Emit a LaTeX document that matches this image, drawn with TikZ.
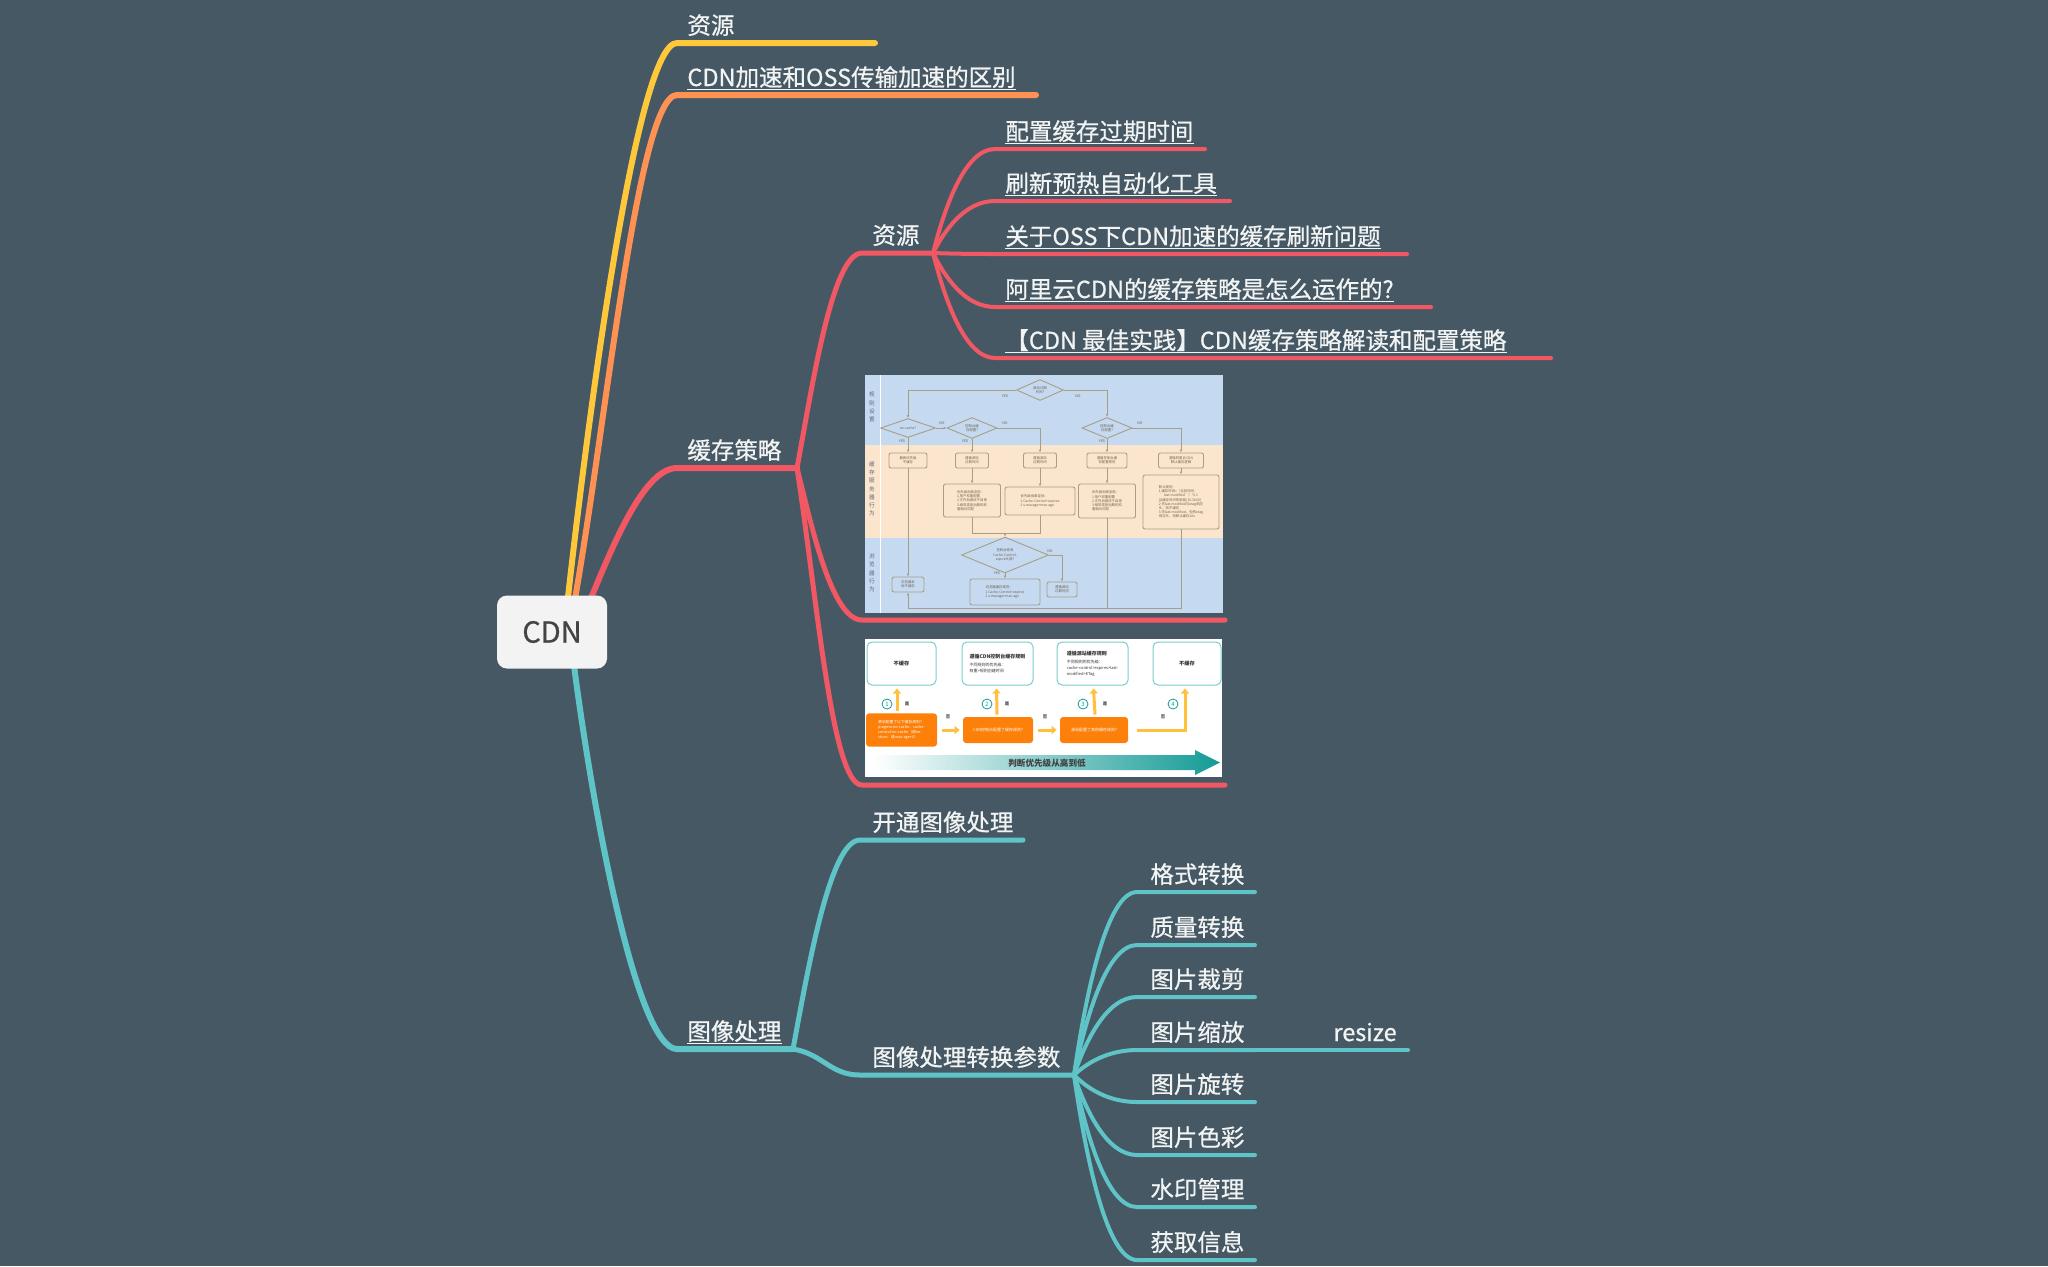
\documentclass[tikz,border=0pt]{standalone}
\usepackage{fontspec}
\setmainfont{Noto Sans CJK SC}
\newfontfamily\mapfont{Noto Sans CJK SC}[RawFeature={embolden=0.7}]
\usepackage{tikz}
\usetikzlibrary{shapes.geometric,arrows.meta,backgrounds}

\definecolor{bgslate}{RGB}{70,88,100}
\definecolor{bryellow}{RGB}{255,200,58}
\definecolor{brorange}{RGB}{255,146,82}
\definecolor{brred}{RGB}{242,88,100}
\definecolor{brteal}{RGB}{94,196,200}
\definecolor{txtwhite}{RGB}{242,244,244}
\definecolor{rootgray}{RGB}{243,243,243}
\definecolor{rootink}{RGB}{68,68,68}
\definecolor{band1}{RGB}{197,217,240}
\definecolor{band2}{RGB}{252,229,205}
\definecolor{flowline}{RGB}{168,158,136}
\definecolor{flowink}{RGB}{110,100,80}
\definecolor{laneink}{RGB}{90,106,128}
\definecolor{orangebox}{RGB}{252,128,10}
\definecolor{tealedge}{RGB}{120,205,205}
\definecolor{tealdark}{RGB}{20,155,150}
\definecolor{arrowyellow}{RGB}{255,192,60}

\tikzstyle{rootbox} = [draw=none, fill=rootgray, rounded corners=5pt, minimum width=55pt, minimum height=36.5pt, text=rootink, font=\mapfont\fontsize{14.5}{16}\selectfont]
\tikzstyle{topictext} = [inner sep=0pt, anchor=base west, text=txtwhite, font=\mapfont\fontsize{11.75}{14}\selectfont]
\tikzstyle{mainbranch} = [line width=3pt, line cap=round]
\tikzstyle{subbranch} = [line width=2.5pt, line cap=round]
\tikzstyle{leafbranch} = [line width=2pt, line cap=round]
\tikzstyle{uline} = [draw=txtwhite, line width=0.8pt]
% diagramma di flusso (immagine 1)
\tikzstyle{fcbox} = [draw=flowline, line width=0.45pt, rounded corners=1pt, inner sep=0.4pt, align=center, text=flowink, font=\fontsize{1.7}{2.1}\selectfont]
\tikzstyle{fcdia} = [fcbox, diamond, sharp corners, inner sep=0pt]
\tikzstyle{fcline} = [draw=flowline, line width=0.45pt, -{Latex[length=1.5pt,width=1.3pt]}]
\tikzstyle{fcplain} = [draw=flowline, line width=0.45pt]
\tikzstyle{fcyes} = [inner sep=0pt, text=flowink, font=\fontsize{1.8}{2}\selectfont]
\tikzstyle{fclane} = [inner sep=0pt, align=center, text=laneink, font=\fontsize{2.8}{4.1}\selectfont]
% schema delle priorita (immagine 2)
\tikzstyle{prbox} = [draw=tealedge, line width=0.5pt, rounded corners=2.5pt, fill=white, minimum height=21.5pt, align=left, text=black!80, font=\fontsize{2}{3}\selectfont]
\tikzstyle{prorange} = [fill=orangebox, rounded corners=1.5pt, minimum height=13pt, align=left, text=white, font=\fontsize{1.9}{2.6}\selectfont]
\tikzstyle{prarrow} = [draw=arrowyellow, line width=1.5pt, -{Triangle[length=2.5pt,width=4pt]}]
\tikzstyle{prnum} = [circle, draw=tealdark, line width=0.4pt, inner sep=0pt, minimum size=5pt, text=tealdark, font=\fontsize{3}{3}\selectfont]
\tikzstyle{prword} = [inner sep=0pt, text=black!70, font=\bfseries\fontsize{2.2}{2.5}\selectfont]

\begin{document}
\begin{tikzpicture}[x=0.5pt,y=-0.5pt]
\useasboundingbox (0,0) rectangle (2048,1266);
\begin{scope}[on background layer]
\fill[bgslate] (0,0) rectangle (2048,1266);
\end{scope}

\node [rootbox] (cdn) at (552,632) {CDN};

% testi dei rami
\node [topictext] (res) at (687,34) {资源};
\node [topictext] (diff) at (687,86) {CDN加速和OSS传输加速的区别};
\node [topictext] (cache) at (687,459) {缓存策略};
\node [topictext] (cres) at (872,244) {资源};
\node [topictext] (img) at (687,1040) {图像处理};
\node [topictext] (open) at (872,831) {开通图像处理};
\node [topictext] (param) at (872,1066) {图像处理转换参数};

% punti di attacco delle linee
\coordinate (resL) at (677,43);    \coordinate (resR) at (875,43);
\coordinate (diffL) at (677,95);   \coordinate (diffR) at (1036,95);
\coordinate (cacheL) at (677,468); \coordinate (cacheK) at (797,468);
\coordinate (cresL) at (862,253);  \coordinate (cresK) at (933,253);
\coordinate (pic1L) at (862,620);  \coordinate (pic1R) at (1225,620);
\coordinate (pic2L) at (862,785);  \coordinate (pic2R) at (1225,785);
\coordinate (imgL) at (677,1049);  \coordinate (imgK) at (793,1049);
\coordinate (openL) at (860,840);  \coordinate (openR) at (1023,840);
\coordinate (paramL) at (860,1075); \coordinate (paramK) at (1074,1075);

% foglie rosse
\foreach \n/\y/\e/\txt in {cexp/149/1205/配置缓存过期时间, pref/201/1230/刷新预热自动化工具,
    oss/254/1407/关于OSS下CDN加速的缓存刷新问题, ali/307/1431/{阿里云CDN的缓存策略是怎么运作的?~},
    best/358/1551/【CDN 最佳实践】CDN缓存策略解读和配置策略}{
  \coordinate (\n0) at (995,\y);
  \coordinate (\n1) at (\e,\y);
  \node [topictext] (\n) at (1005,\y-9) {\txt};
}

% foglie azzurre
\foreach \n/\y/\txt in {fmt/892/格式转换, qual/945/质量转换, crop/997/图片裁剪, scale/1050/图片缩放,
    rot/1102/图片旋转, tint/1155/图片色彩, wmark/1207/水印管理, info/1260/获取信息}{
  \coordinate (\n0) at (1137,\y);
  \coordinate (\n1) at (1255,\y);
  \node [topictext] (\n) at (1150,\y-9) {\txt};
}
\node [topictext] (rsz) at (1333,1041) {resize};
\coordinate (rszR) at (1408,1050);

% sottolineature
\foreach \n in {diff,cexp,pref,oss,ali,best,img}
  \draw[uline] ([yshift=-1.7pt]\n.base west) -- ([yshift=-1.7pt]\n.base east);

% rami
\begin{scope}[on background layer]
\draw[mainbranch, bryellow] ([shift={(14,-17)}]cdn.center) .. controls +(22,-200) and +(-40,0) .. (resL) -- (resR);
\draw[mainbranch, brorange] ([shift={(20,-17)}]cdn.center) .. controls +(32,-170) and +(-40,0) .. (diffL) -- (diffR);
\draw[mainbranch, brred] ([shift={(32,-17)}]cdn.center) .. controls +(25,-60) and +(-35,0) .. (cacheL) -- (cacheK);
\draw[mainbranch, brteal] ([shift={(20,18)}]cdn.center) .. controls +(20,160) and +(-40,0) .. (imgL) -- (imgK);
\draw[subbranch, brred] (cacheK) .. controls +(15,-80) and +(-30,0) .. (cresL) -- (cresK);
\draw[subbranch, brred] (cacheK) .. controls +(15,60) and +(-30,0) .. (pic1L) -- (pic1R);
\draw[subbranch, brred] (cacheK) .. controls +(20,130) and +(-30,0) .. (pic2L) -- (pic2R);
\draw[subbranch, brteal] (imgK) .. controls +(15,-80) and +(-30,0) .. (openL) -- (openR);
\draw[subbranch, brteal] (imgK) .. controls +(30,5) and +(-30,0) .. (paramL) -- (paramK);
\foreach \n/\y in {cexp/149, pref/201, oss/254, ali/307, best/358}
  \draw[leafbranch, brred] (cresK) .. controls +(12,{0.45*(\y-253)}) and +(-30,0) .. (\n0) -- (\n1);
\foreach \n/\y in {fmt/892, qual/945, crop/997, scale/1050, rot/1102, tint/1155, wmark/1207, info/1260}
  \draw[leafbranch, brteal] (paramK) .. controls +(12,{0.45*(\y-1075)}) and +(-30,0) .. (\n0) -- (\n1);
\draw[leafbranch, brteal] (scale1) -- (rszR);
\end{scope}

% immagine 1: diagramma di flusso
\begin{scope}[shift={(865,375)}]
\fill[band1] (0,0) rectangle (358,70);
\fill[band2] (0,70) rectangle (358,163);
\fill[band1] (0,163) rectangle (358,238);
\draw[white, line width=0.4pt] (15,0) -- (15,238);
\node[fclane] (lane1) at (7,32) {规\\则\\设\\置};
\node[fclane] (lane2) at (7,114) {缓\\存\\服\\务\\器\\行\\为};
\node[fclane] (lane3) at (7,198) {浏\\览\\器\\行\\为};

\node[fcdia, minimum width=23.5pt, minimum height=9pt] (d0) at (175,15) {源站过期\\时间?};
\node[fcdia, minimum width=27.5pt, minimum height=7.5pt] (d1) at (43,53) {no-cache?};
\node[fcdia, minimum width=25pt, minimum height=9pt] (d2) at (107,53) {控制台缓\\存配置?};
\node[fcdia, minimum width=25pt, minimum height=9pt] (d3) at (242,53) {控制台缓\\存配置?};
\node[fcbox, minimum width=19pt, minimum height=7.5pt] (ba) at (43,85.5) {最高优先级\\不缓存};
\node[fcbox, minimum width=16.5pt, minimum height=7.5pt] (bb) at (107,85.5) {遵循源站\\过期时间};
\node[fcbox, minimum width=16.5pt, minimum height=7.5pt] (bc) at (175,85.5) {遵循源站\\过期时间};
\node[fcbox, minimum width=20pt, minimum height=7.5pt] (bd) at (242,85.5) {遵循控制台缓\\存配置规则};
\node[fcbox, minimum width=22.5pt, minimum height=7.5pt] (be) at (316,85.5) {遵循阿里云CDN\\默认缓存逻辑};
\node[fcbox, align=left, minimum width=28.5pt, minimum height=16.5pt] (bf) at (107,125.5)
  {优先级由高至低：\\1 用户权重配置\\2 文件后缀优于目录\\3 相同类型后期的权\\重相对匹配};
\node[fcbox, align=left, minimum width=35pt, minimum height=14pt] (bg) at (175,126)
  {优先级由高至低：\\1 Cache-Control>expires\\2 s-maxage>max-age};
\node[fcbox, align=left, minimum width=28.5pt, minimum height=17pt] (bh) at (242,126)
  {优先级由高至低：\\1 用户权重配置\\2 文件后缀优于目录\\3 相同类型后期的权\\重相对匹配};
\node[fcbox, align=left, minimum width=38pt, minimum height=27pt] (bi) at (316,127)
  {默认规则：\\1 缓存时间=（当前时间-\\\ \ 'last-modified'）*0.1\\且缓存时间的取值[10-3600]\\2 无last-modified与etag响应\\头，则不缓存\\3 无last-modified，但有etag\\响应头，则默认缓存10s};
\node[fcdia, minimum width=43.5pt, minimum height=14pt] (d4) at (140,180) {控制台修改\\Cache-Control,\\expire头部?};
\node[fcbox, minimum width=15pt, minimum height=7.5pt] (bj) at (197,214.5) {遵循源站\\过期时间};
\node[fcbox, align=left, minimum width=35pt, minimum height=13pt] (bk) at (140,217)
  {浏览器缓存规则：\\1 Cache-Control>expires\\2 s-maxage>max-age};
\node[fcbox, minimum width=16pt, minimum height=7.5pt] (bl) at (43,209.5) {浏览器本\\地不缓存};
\coordinate (jn) at (140,158);
\coordinate (bot) at (43,233);

\draw[fcline] (d0.west) -| (d1.north);
\draw[fcline] (d0.east) -| (d3.north);
\draw[fcline] (d1.east) -- (d2.west);
\draw[fcline] (d1.south) -- (ba.north);
\draw[fcline] (d2.south) -- (d2.south |- bb.north);
\draw[fcline] (d2.east) -| (bc.north);
\draw[fcline] (d3.south) -- (d3.south |- bd.north);
\draw[fcline] (d3.east) -| (be.north);
\draw[fcline] (bb.south) -- (bb.south |- bf.north);
\draw[fcline] (bc.south) -- (bc.south |- bg.north);
\draw[fcline] (bd.south) -- (bd.south |- bh.north);
\draw[fcline] (be.south) -- (be.south |- bi.north);
\draw[fcplain] (bf.south) |- (jn) -| (bg.south);
\draw[fcline] (jn) -- (d4.north);
\draw[fcline] (d4.south) -- (bk.north);
\draw[fcline] (d4.east) -| (bj.north);
\draw[fcline] (ba.south) -- (bl.north);
\draw[fcline] (bi.south) |- (bot) -- (bl.south);
\draw[fcplain] (bh.south) -- (bh.south |- bot);

\node[fcyes] at (140,21) {YES};  \node[fcyes] at (213,21) {NO};
\node[fcyes] at (77,48) {NO};    \node[fcyes] at (140,48) {NO};   \node[fcyes] at (275,48) {NO};
\node[fcyes] at (37,66) {YES};   \node[fcyes] at (100,66) {YES};  \node[fcyes] at (237,66) {YES};
\node[fcyes] at (185,176) {NO};  \node[fcyes] at (132,198) {YES};
\end{scope}

% immagine 2: priorita della cache
\begin{scope}[shift={(865,639)}]
\fill[white] (0,0) rectangle (357,138);
\node[prbox, minimum width=34.5pt, align=center] (t1) at (36.5,24.5) {\textbf{\fontsize{2.6}{3}\selectfont 不缓存}};
\node[prbox, minimum width=35.5pt] (t2) at (132.5,24.5)
  {\textbf{\fontsize{2.5}{3.5}\selectfont 遵循CDN控制台缓存规则}\\[1pt]不同规则的优先级：\\权重>规则创建时间};
\node[prbox, minimum width=35.5pt] (t3) at (227.5,24.5)
  {\textbf{\fontsize{2.5}{3.5}\selectfont 遵循源站缓存规则}\\[1pt]不同规则的优先级：\\cache-control>expires>last-\\modified>ETag};
\node[prbox, minimum width=34pt, align=center] (t4) at (322,24.5) {\textbf{\fontsize{2.6}{3}\selectfont 不缓存}};
\node[prorange, minimum width=35.5pt] (oa) at (36.5,91)
  {源站配置了以下缓存规则?\\pragma:no-cache、cache-\\control:no-cache（或no-\\store、或max-age=0）};
\node[prorange, minimum width=35pt, font=\fontsize{2}{2.6}\selectfont] (ob) at (133,91) {CDN控制台配置了缓存规则?};
\node[prorange, minimum width=34pt, font=\fontsize{2}{2.6}\selectfont] (oc) at (229,91) {源站配置了其他缓存规则?};

\draw[prarrow] ([xshift=-2.25pt, yshift=1pt]oa.north) -- ([xshift=-2.25pt, yshift=-1.5pt]t1.south);
\draw[prarrow] ([xshift=-0.5pt, yshift=1pt]ob.north) -- ([xshift=-0.5pt, yshift=-1.5pt]t2.south);
\draw[prarrow] ([xshift=0.5pt, yshift=1pt]oc.north) -- ([xshift=0.5pt, yshift=-1.5pt]t3.south);
\draw[prarrow] ([xshift=2.5pt]oa.east) -- ([xshift=-1.5pt]ob.west);
\draw[prarrow] ([xshift=2.5pt]ob.east) -- ([xshift=-1.5pt]oc.west);
\draw[prarrow] ([xshift=4.5pt]oc.east) -| ([xshift=-1pt, yshift=-1.5pt]t4.south);

\node[prnum] (n1) at (22,65) {1};
\node[prnum] (n2) at (122,65) {2};
\node[prnum] (n3) at (218,65) {3};
\node[prnum] (n4) at (308,65) {4};
\node[prword] at (42,65) {是};   \node[prword] at (142,65) {是};  \node[prword] at (240,65) {是};
\node[prword] at (83,78) {否};   \node[prword] at (180,78) {否};  \node[prword] at (298,78) {否};

\shade[left color=white, right color=tealdark] (8,116) -- (330,116) -- (330,111) -- (355,123.5)
  -- (330,136) -- (330,131) -- (8,131) -- cycle;
\node[inner sep=0pt, text=black!75, font=\bfseries\fontsize{4.3}{5}\selectfont] (prio) at (182,124) {判断优先级从高到低};
\end{scope}
\end{tikzpicture}
\end{document}
